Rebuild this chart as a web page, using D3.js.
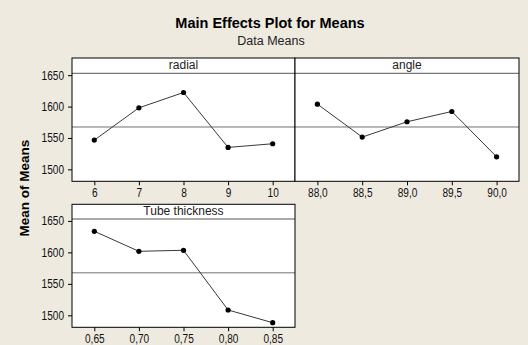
<!DOCTYPE html>
<html>
<head>
<meta charset="utf-8">
<script src="https://cdn.jsdelivr.net/npm/d3@7"></script>
<style>
  html, body { margin: 0; padding: 0; background: #EEEAE0; }
  svg { display: block; }
</style>
</head>
<body>
<svg id="chart" width="528" height="345"></svg>
<script>
// ---- data ----
const radialLevels = [6, 7, 8, 9, 10];
const radialMeans = [1546.6, 1598.0, 1622.4, 1535.0, 1540.8];
const radialLabels = ["6", "7", "8", "9", "10"];

const angleLevels = [88.0, 88.5, 89.0, 89.5, 90.0];
const angleMeans = [1603.9, 1551.4, 1575.8, 1592.2, 1520.0];
const angleLabels = ["88,0", "88,5", "89,0", "89,5", "90,0"];

const tubeLevels = [0.65, 0.70, 0.75, 0.80, 0.85];
const tubeMeans = [1633.5, 1601.7, 1603.3, 1508.5, 1488.3];
const tubeLabels = ["0,65", "0,70", "0,75", "0,80", "0,85"];

const grandMean = 1567.5;
const yTicks = [1500, 1550, 1600, 1650];

const panelsDef = [
  { name: "radial", levels: radialLevels, means: radialMeans, labels: radialLabels, col: 0, row: 0, showY: true },
  { name: "angle", levels: angleLevels, means: angleMeans, labels: angleLabels, col: 1, row: 0, showY: false },
  { name: "Tube thickness", levels: tubeLevels, means: tubeMeans, labels: tubeLabels, col: 0, row: 1, showY: true }
];

// ---- layout ----
const svg = d3.select("#chart");
const colX = [72, 295, 519];
const rowY = [{ top: 58, head: 73.3, bottom: 181.3 }, { top: 204.3, head: 219, bottom: 327.3 }];
const tickFont = "'Liberation Sans', Arial, sans-serif";

function narrow(sel, f) {
  sel.each(function () {
    const w = this.getComputedTextLength();
    d3.select(this).attr("textLength", w * f).attr("lengthAdjust", "spacingAndGlyphs");
  });
}

svg.append("text")
  .attr("x", 270).attr("y", 28)
  .attr("text-anchor", "middle")
  .attr("font-family", "'Liberation Sans', Arial, sans-serif")
  .attr("font-weight", "bold")
  .attr("font-size", 14.5)
  .attr("fill", "#000")
  .text("Main Effects Plot for Means");

svg.append("text")
  .attr("x", 271).attr("y", 44.5)
  .attr("text-anchor", "middle")
  .attr("font-family", "'Liberation Sans', Arial, sans-serif")
  .attr("font-size", 12.5)
  .attr("fill", "#222")
  .text("Data Means");

svg.append("text")
  .attr("transform", "translate(28.5,188) rotate(-90)")
  .attr("text-anchor", "middle")
  .attr("font-family", "'Liberation Sans', Arial, sans-serif")
  .attr("font-weight", "bold")
  .attr("font-size", 13.5)
  .attr("fill", "#000")
  .text("Mean of Means");

panelsDef.forEach(p => {
  const x0 = colX[p.col], x1 = colX[p.col + 1];
  const r = rowY[p.row];
  const step = p.levels[1] - p.levels[0];
  const x = d3.scaleLinear()
    .domain([p.levels[0] - step / 2, p.levels[p.levels.length - 1] + step / 2])
    .range([x0, x1]);
  const y = d3.scaleLinear().domain([1481, 1653]).range([r.bottom, r.head]);

  const g = svg.append("g");
  g.append("rect")
    .attr("x", x0).attr("y", r.top)
    .attr("width", x1 - x0).attr("height", r.bottom - r.top)
    .attr("fill", "#fff");

  g.append("line")
    .attr("x1", x0).attr("x2", x1)
    .attr("y1", r.head).attr("y2", r.head)
    .attr("stroke", "#555").attr("stroke-width", 1);
  g.append("text")
    .attr("x", (x0 + x1) / 2).attr("y", r.top + 10.5)
    .attr("text-anchor", "middle")
    .attr("font-family", "'Liberation Sans', Arial, sans-serif")
    .attr("font-size", 12)
    .attr("fill", "#222")
    .text(p.name);

  g.append("line")
    .attr("x1", x0).attr("x2", x1)
    .attr("y1", y(grandMean)).attr("y2", y(grandMean))
    .attr("stroke", "#707070").attr("stroke-width", 1);

  const pts = p.levels.map((l, i) => [l, p.means[i]]);
  g.append("path")
    .datum(pts)
    .attr("fill", "none")
    .attr("stroke", "#383838")
    .attr("stroke-width", 1)
    .attr("d", d3.line().x(d => x(d[0])).y(d => y(d[1])));
  g.selectAll("circle.pt").data(pts).join("circle")
    .attr("class", "pt")
    .attr("cx", d => x(d[0])).attr("cy", d => y(d[1]))
    .attr("r", 2.6).attr("fill", "#000");

  g.append("rect")
    .attr("x", x0).attr("y", r.top)
    .attr("width", x1 - x0).attr("height", r.bottom - r.top)
    .attr("fill", "none").attr("stroke", "#000").attr("stroke-width", 1);

  const xa = d3.axisBottom(x)
    .tickValues(p.levels)
    .tickFormat((d, i) => p.labels[i])
    .tickSize(4).tickSizeOuter(0).tickPadding(3);
  const gx = svg.append("g").attr("transform", `translate(0,${r.bottom})`).call(xa);
  gx.select(".domain").remove();
  gx.selectAll("line").attr("stroke", "#000");
  gx.selectAll("text").attr("font-family", tickFont).attr("font-size", 12).attr("fill", "#111")
    .call(narrow, 0.84);

  if (p.showY) {
    const ya = d3.axisLeft(y).tickValues(yTicks).tickSize(4).tickSizeOuter(0).tickPadding(4)
      .tickFormat(d3.format("d"));
    const gy = svg.append("g").attr("transform", `translate(${x0},0)`).call(ya);
    gy.select(".domain").remove();
    gy.selectAll("line").attr("stroke", "#000");
    gy.selectAll("text").attr("font-family", tickFont).attr("font-size", 12).attr("fill", "#111")
      .call(narrow, 0.84);
  }
});
</script>
</body>
</html>
